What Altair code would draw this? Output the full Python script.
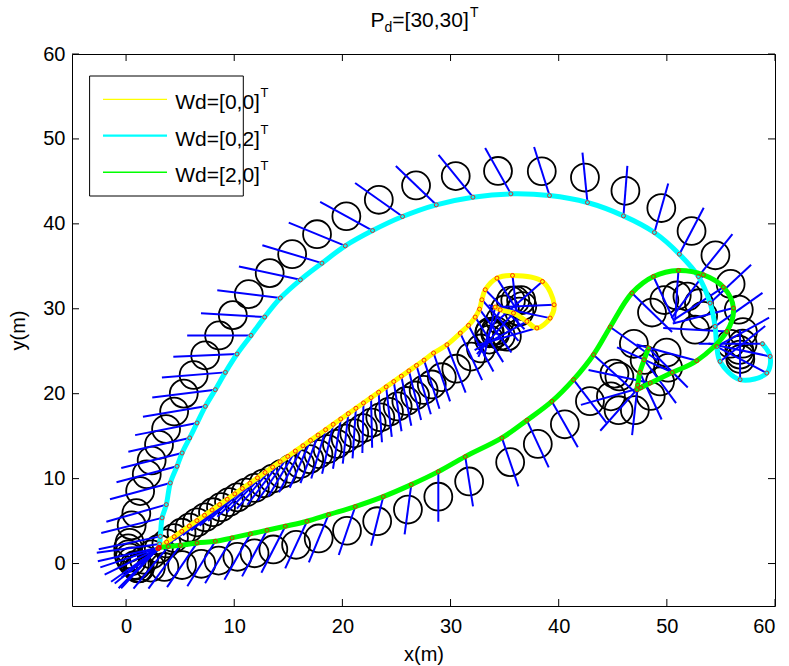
import altair as alt
import numpy as np
import pandas as pd

# ---- sampled trajectories: tracked point (x, y) in metres, body heading in degrees ----
# Wd = [0,0]^T
yel_x = [3.05, 3.75, 4.45, 5.15, 5.85, 6.55, 7.25, 7.95, 8.65, 9.35, 10.05, 10.75, 11.45, 12.15,
         12.85, 13.55, 14.25, 14.95, 15.65, 16.35, 17.05, 17.75, 18.45, 19.15, 19.85, 20.55, 21.25,
         21.95, 22.65, 23.35, 24.05, 24.75, 25.45, 26.15, 26.85, 27.55,
         28.43, 29.67, 30.9, 31.66, 32.28, 32.68, 32.9, 33.21, 34.29, 35.73, 38.5, 39.58, 39.21,
         37.98, 37.06, 35.82, 34.59, 34.13]
yel_y = [1.9, 2.53, 3.16, 3.79, 4.42, 5.05, 5.68, 6.31, 6.94, 7.57, 8.2, 8.83, 9.46, 10.09,
         10.72, 11.35, 11.98, 12.61, 13.24, 13.87, 14.5, 15.13, 15.76, 16.39, 17.02, 17.65, 18.28,
         18.91, 19.54, 20.17, 20.8, 21.43, 22.06, 22.69, 23.32, 23.95,
         24.79, 25.76, 27.14, 28.04, 29.02, 29.96, 31.06, 32.24, 33.61, 33.92, 33.21, 30.47, 28.9,
         27.73, 28.51, 29.49, 29.88, 30.2]
yel_h = [226, 225, 225, 224, 224, 224, 224, 225, 225, 226, 227, 228, 229, 231,
         233, 236, 239, 242, 245, 248, 251, 254, 257, 260, 263, 265, 267,
         269, 271, 273, 275, 277, 279, 281, 283, 284,
         285, 287, 290, 293, 296, 300, 305, 308, 296, 275, 228, 183, 165,
         200, 215, 235, 250, 260]

# Wd = [0,2]^T
cya_x = [2.95, 3.0, 3.02, 3.05, 3.06, 3.1, 3.17, 3.33, 3.72, 4.09, 4.71, 5.18, 5.88, 6.56, 7.33,
         8.25, 9.18, 10.26, 11.55, 12.81, 14.26, 16.12, 18.11, 20.27, 22.79, 25.56, 28.68, 32.07,
         35.58, 39.15, 42.66, 45.99, 48.85, 51.16, 52.92, 54.0, 54.46, 54.62, 54.92, 56.77, 59.24,
         59.55, 58.84]
cya_y = [1.75, 1.8, 1.82, 1.85, 1.9, 2.3, 3.2, 5.38, 6.94, 9.49, 11.45, 13.02, 14.79, 16.55, 18.51,
         20.47, 22.51, 24.67, 26.86, 29.02, 31.26, 33.41, 35.37, 37.41, 39.21, 40.86, 42.24, 43.14,
         43.53, 43.33, 42.51, 40.94, 38.98, 36.43, 33.8, 30.67, 27.92, 25.56, 23.8, 21.65, 22.43,
         24.39, 25.88]
cya_h = [232, 222, 212, 203, 196, 190, 195, 197.5, 200, 199, 198.5, 197.5, 196, 194, 192,
         189, 186, 183, 180, 175.5, 171, 164.5, 159, 152.4, 145.2, 138, 129.3, 122.6,
         113.8, 104, 94.5, 86.5, 77.5, 67.6, 57.8, 50, 42, 35, 45, 90, 146,
         165, 180]

# Wd = [2,0]^T
grn_x = [2.95, 3.01, 3.9, 5.02, 6.56, 8.25, 9.8, 11.49, 13.03, 14.72, 16.73, 18.72, 21.19, 23.78,
         26.37, 28.87, 31.36, 34.75, 37.06, 39.37, 41.37, 43.22, 44.76, 46.77, 48.76, 51.07, 53.38,
         55.23, 56.16, 55.55, 52.77, 50.5, 48.46, 47.6, 47.23, 47.3, 47.5, 47.9, 48.3]
grn_y = [1.75, 1.85, 2.0, 2.15, 2.43, 2.62, 3.02, 3.49, 3.92, 4.39, 4.98, 5.76, 6.71, 7.88,
         9.29, 10.82, 12.59, 14.79, 16.86, 19.09, 21.65, 24.59, 27.85, 31.85, 33.8, 34.51, 34.0,
         32.55, 30.08, 27.33, 23.88, 22.5, 21.26, 20.7, 20.47, 21.0, 22.5, 24.0, 25.38]
grn_h = [232, 234, 237, 240, 242, 244, 245, 246, 247, 248, 250, 252, 255, 259,
         264, 270, 277, 285, 290, 294, 301, 311, 318, 309, 290, 267, 240,
         220, 198, 176, 161, 150, 165, 200, 235, 265, 290, 300, 308]

LABELS = ["Wd=[0,0]", "Wd=[0,2]", "Wd=[2,0]"]
COLORS = ["#ffff00", "#00ffff", "#00ff00"]
TICKS = [0, 10, 20, 30, 40, 50, 60]

ARM = 5.9  # length of the body axis drawn from the tracked point (m)

W, H = 703, 552
XS = alt.Scale(domain=[-5, 60], nice=False, zero=False)
YS = alt.Scale(domain=[-5, 60], nice=False, zero=False)


def samples(name, xs, ys, hs):
    x = np.array(xs, float)
    y = np.array(ys, float)
    t = np.radians(np.array(hs, float))
    return pd.DataFrame({
        "path": name,
        "order": np.arange(len(x)),
        "x": x, "y": y,
        "cx": x + 0.5 * ARM * np.cos(t), "cy": y + 0.5 * ARM * np.sin(t),
        "ex": x + ARM * np.cos(t), "ey": y + ARM * np.sin(t),
    })


df = pd.concat([
    samples(LABELS[0], yel_x, yel_y, yel_h),
    samples(LABELS[1], cya_x, cya_y, cya_h),
    samples(LABELS[2], grn_x, grn_y, grn_h),
], ignore_index=True)

base = alt.Chart(df)
pcolor = alt.Color("path:N", scale=alt.Scale(domain=LABELS, range=COLORS), legend=None)

bodies = base.mark_point(shape="circle", filled=False, size=780, color="black",
                         strokeWidth=1.8, opacity=1).encode(
    x=alt.X("cx:Q", scale=XS, axis=alt.Axis(values=TICKS, title="x(m)")),
    y=alt.Y("cy:Q", scale=YS, axis=alt.Axis(values=TICKS, title="y(m)")),
)
axes_ = base.mark_rule(color="#0000ff", strokeWidth=2).encode(
    x="x:Q", y="y:Q", x2="ex:Q", y2="ey:Q")
paths = base.mark_line(strokeWidth=5, strokeJoin="round", strokeCap="round",
                       interpolate="catmull-rom").encode(
    x="x:Q", y="y:Q", color=pcolor, order="order:Q", detail="path:N")
dots = base.mark_point(shape="circle", filled=False, size=16, color="red",
                       strokeWidth=0.8, opacity=1).encode(x="x:Q", y="y:Q")

# inward ticks on all four sides of the box
tk = alt.Chart(pd.DataFrame({"v": TICKS}))
tick_layers = [
    tk.mark_rule(color="black").encode(x="v:Q", y=alt.value(H), y2=alt.value(H - 7)),
    tk.mark_rule(color="black").encode(x="v:Q", y=alt.value(0), y2=alt.value(7)),
    tk.mark_rule(color="black").encode(y="v:Q", x=alt.value(0), x2=alt.value(7)),
    tk.mark_rule(color="black").encode(y="v:Q", x=alt.value(W), x2=alt.value(W - 7)),
]

# legend
FONT = "Liberation Sans"
leg_box = alt.Chart(pd.DataFrame({"a": [0]})).mark_rect(
    fill="white", stroke="black", strokeWidth=1).encode(
    x=alt.value(17.6), x2=alt.value(171.3), y=alt.value(22), y2=alt.value(142))
leg_rows = pd.DataFrame({"label": LABELS, "ly": [45.3, 81.7, 118.3],
                         "lw": [1.2, 2.2, 1.4]})
leg_layers = [leg_box]
for i, lab in enumerate(LABELS):
    row = leg_rows.iloc[[i]]
    c = alt.Chart(row)
    leg_layers.append(c.mark_rule(color=COLORS[i], strokeWidth=float(row["lw"].iloc[0])).encode(
        x=alt.value(31), x2=alt.value(95), y=alt.value(float(row["ly"].iloc[0]))))
    leg_layers.append(c.mark_text(align="left", baseline="alphabetic", font=FONT, fontSize=21,
                                  color="black").encode(
        text="label:N", x=alt.value(103.3), y=alt.value(float(row["ly"].iloc[0]) + 10)))
    leg_layers.append(c.mark_text(align="left", baseline="alphabetic", font=FONT, fontSize=13,
                                  color="black").encode(
        text=alt.value("T"), x=alt.value(188.5), y=alt.value(float(row["ly"].iloc[0]) - 2)))

# title  P_d=[30,30]^T
one = alt.Chart(pd.DataFrame({"a": [0]}))
title_layers = [
    one.mark_text(align="left", baseline="alphabetic", font=FONT, fontSize=21, color="black").encode(
        text=alt.value("P"), x=alt.value(298.5), y=alt.value(-27)),
    one.mark_text(align="left", baseline="alphabetic", font=FONT, fontSize=14, color="black").encode(
        text=alt.value("d"), x=alt.value(312.5), y=alt.value(-22)),
    one.mark_text(align="left", baseline="alphabetic", font=FONT, fontSize=21, color="black").encode(
        text=alt.value("=[30,30]"), x=alt.value(320.3), y=alt.value(-27)),
    one.mark_text(align="left", baseline="alphabetic", font=FONT, fontSize=14, color="black").encode(
        text=alt.value("T"), x=alt.value(398), y=alt.value(-37)),
]

chart = alt.layer(bodies, axes_, paths, dots, *tick_layers, *leg_layers, *title_layers).properties(
    width=W, height=H,
    padding={"left": 72, "top": 54, "right": 14, "bottom": 60},
    autosize=alt.AutoSizeParams(type="none"),
).configure_view(stroke="black", strokeWidth=1).configure_axis(
    grid=False, ticks=False, domain=False, labelFont=FONT, labelFontSize=20,
    labelColor="black", titleFont=FONT, titleFontSize=20, titleFontWeight="normal",
    titleColor="black",
).configure_axisX(labelPadding=10, titlePadding=8).configure_axisY(labelPadding=7, titlePadding=14)

chart.save("out.html", embed_options={"renderer": "svg", "actions": False})
